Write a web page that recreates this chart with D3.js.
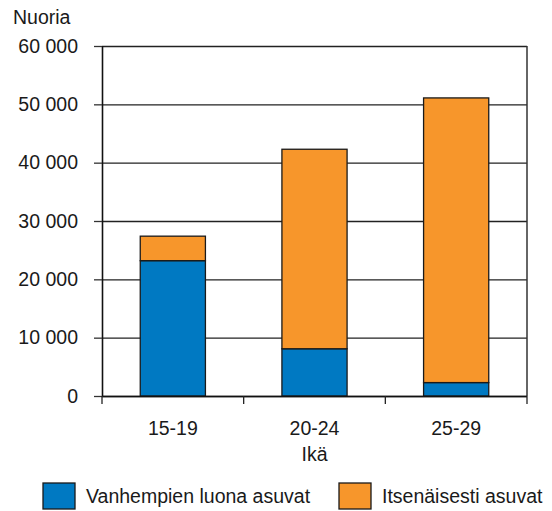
<!DOCTYPE html>
<html>
<head>
<meta charset="utf-8">
<script src="https://cdn.jsdelivr.net/npm/d3@7"></script>
<style>
  body { margin: 0; background: #fff; }
  text { font-family: "Liberation Sans", Arial, sans-serif; fill: #1a1a1a; }
</style>
</head>
<body>
<svg class="chart" width="552" height="511"></svg>
<script>
// data
var ageGroups = ["15-19", "20-24", "25-29"];
var withParents = [23200, 8100, 2300];
var independent = [4200, 34200, 48800];
var seriesNames = ["Vanhempien luona asuvat", "Itsenäisesti asuvat"];
var seriesColors = ["#0079c2", "#f7962b"];
var yTicks = [0, 10000, 20000, 30000, 40000, 50000, 60000];

var fontSize = "19.5px";

var margin = { top: 46, right: 25, bottom: 115, left: 102 },
    width = 552 - margin.left - margin.right,
    height = 511 - margin.top - margin.bottom;

var svg = d3.select(".chart");
var g = svg.append("g")
    .attr("transform", "translate(" + margin.left + "," + margin.top + ")");

var x = d3.scaleBand()
    .domain(ageGroups)
    .range([0, width])
    .paddingInner(0.54)
    .paddingOuter(0.27);

var y = d3.scaleLinear()
    .domain([0, 60000])
    .range([height, 0]);

var fmt = function(d) { return d3.format(",")(d).replace(/,/g, " "); };

// gridlines
g.selectAll(".grid")
    .data(yTicks)
    .enter().append("line")
    .attr("x1", 0)
    .attr("x2", width)
    .attr("y1", function(d) { return y(d) + 0.5; })
    .attr("y2", function(d) { return y(d) + 0.5; })
    .style("stroke", "#222")
    .style("stroke-width", 1.3);

// right border of plot
g.append("line")
    .attr("x1", width).attr("x2", width)
    .attr("y1", 0).attr("y2", height)
    .style("stroke", "#333")
    .style("stroke-width", 1.5);

// stacked bars
var stackData = ageGroups.map(function(a, i) {
    return { age: a, s0: withParents[i], s1: independent[i] };
});
var stack = d3.stack().keys(["s0", "s1"])(stackData);

g.selectAll(".series")
    .data(stack)
    .enter().append("g")
    .style("fill", function(d, i) { return seriesColors[i]; })
    .selectAll("rect")
    .data(function(d) { return d; })
    .enter().append("rect")
    .attr("x", function(d) { return x(d.data.age); })
    .attr("y", function(d) { return y(d[1]); })
    .attr("width", x.bandwidth())
    .attr("height", function(d) { return y(d[0]) - y(d[1]); })
    .style("stroke", "#1a1a1a")
    .style("stroke-width", 1.3);

// y axis
var yAxis = g.append("g")
    .call(d3.axisLeft(y).tickValues(yTicks).tickFormat(fmt).tickSize(8).tickPadding(16));
yAxis.select(".domain").style("stroke", "#111").style("stroke-width", 1.6).attr("d", "M0.5," + height + "V0");
yAxis.selectAll(".tick line").style("stroke", "#333").style("stroke-width", 1.3);
yAxis.selectAll("text").style("font-size", fontSize).style("fill", "#1a1a1a")
    .style("font-family", "'Liberation Sans', Arial, sans-serif");

// x axis: ticks at category boundaries
var xAxis = g.append("g").attr("transform", "translate(0," + height + ")");
xAxis.append("line")
    .attr("x1", 0).attr("x2", width)
    .attr("y1", 0.5).attr("y2", 0.5)
    .style("stroke", "#111").style("stroke-width", 1.6);
var bounds = ageGroups.map(function(a) { return x(a) - x.step() * x.paddingOuter(); });
bounds.push(width);
xAxis.selectAll(".xtick")
    .data(bounds)
    .enter().append("line")
    .attr("x1", function(d) { return d; })
    .attr("x2", function(d) { return d; })
    .attr("y1", 0).attr("y2", 8)
    .style("stroke", "#222").style("stroke-width", 1.3);
xAxis.selectAll(".xlabel")
    .data(ageGroups)
    .enter().append("text")
    .attr("x", function(d) { return x(d) + x.bandwidth() / 2; })
    .attr("y", 39)
    .attr("text-anchor", "middle")
    .style("font-size", fontSize)
    .text(function(d) { return d; });

// axis titles
svg.append("text")
    .attr("x", 13).attr("y", 24)
    .style("font-size", fontSize)
    .text("Nuoria");
svg.append("text")
    .attr("x", margin.left + x("20-24") + x.bandwidth() / 2)
    .attr("y", 461)
    .attr("text-anchor", "middle")
    .style("font-size", fontSize)
    .text("Ikä");

// legend
var legendX = [43, 339];
var legend = svg.selectAll(".legend")
    .data(seriesNames)
    .enter().append("g")
    .attr("transform", function(d, i) { return "translate(" + legendX[i] + ",483)"; });
legend.append("rect")
    .attr("width", 32)
    .attr("height", 26)
    .style("fill", function(d, i) { return seriesColors[i]; })
    .style("stroke", "#1a1a1a")
    .style("stroke-width", 1.3);
legend.append("text")
    .attr("x", 43)
    .attr("y", 20)
    .style("font-size", fontSize)
    .text(function(d) { return d; });
</script>
</body>
</html>
